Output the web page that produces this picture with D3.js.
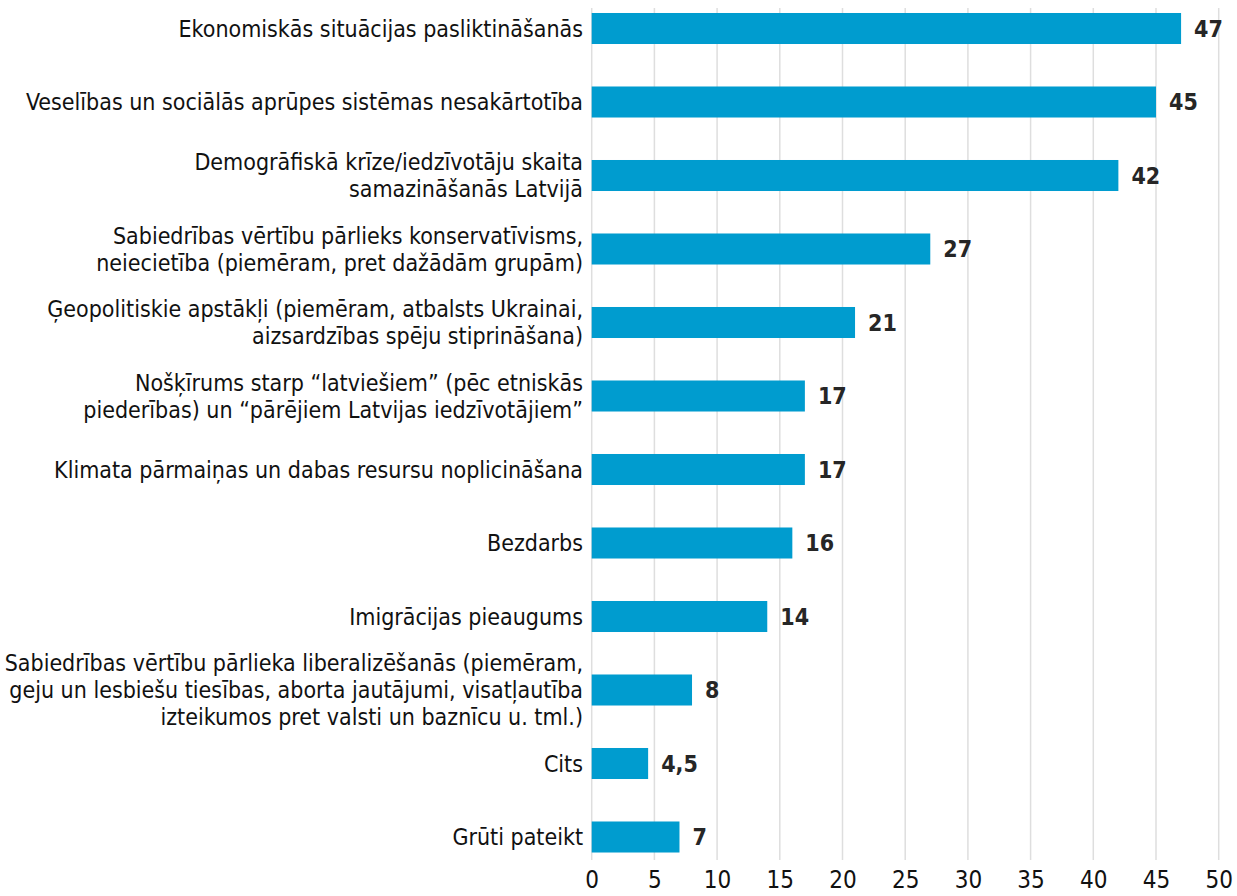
<!DOCTYPE html>
<html><head><meta charset="utf-8">
<script src="https://cdn.jsdelivr.net/npm/d3@7"></script>
<style>
html,body{margin:0;padding:0;background:#fff;}
svg{display:block;}
text{font-family:"Liberation Sans Narrow","DejaVu Sans Condensed",sans-serif;}
</style></head>
<body>
<svg id="chart" width="1237" height="896"></svg>
<script>
const categories = [
  ["Ekonomiskās situācijas pasliktināšanās"],
  ["Veselības un sociālās aprūpes sistēmas nesakārtotība"],
  ["Demogrāfiskā krīze/iedzīvotāju skaita", "samazināšanās Latvijā"],
  ["Sabiedrības vērtību pārlieks konservatīvisms,", "neiecietība (piemēram, pret dažādām grupām)"],
  ["Ģeopolitiskie apstākļi (piemēram, atbalsts Ukrainai,", "aizsardzības spēju stiprināšana)"],
  ["Nošķīrums starp “latviešiem” (pēc etniskās", "piederības) un “pārējiem Latvijas iedzīvotājiem”"],
  ["Klimata pārmaiņas un dabas resursu noplicināšana"],
  ["Bezdarbs"],
  ["Imigrācijas pieaugums"],
  ["Sabiedrības vērtību pārlieka liberalizēšanās (piemēram,", "geju un lesbiešu tiesības, aborta jautājumi, visatļautība", "izteikumos pret valsti un baznīcu u. tml.)"],
  ["Cits"],
  ["Grūti pateikt"]
];
const values = [47, 45, 42, 27, 21, 17, 17, 16, 14, 8, 4.5, 7];
const valueLabels = ["47", "45", "42", "27", "21", "17", "17", "16", "14", "8", "4,5", "7"];
const ticks = [0, 5, 10, 15, 20, 25, 30, 35, 40, 45, 50];

const svg = d3.select("#chart");
const x = d3.scaleLinear().domain([0, 50]).range([591.7, 1218.7]);
const idx = d3.range(categories.length);
const y = d3.scaleBand().domain(idx).range([-8.25, 873.75]).paddingInner(0.578).paddingOuter(0.289);

// gridlines
svg.append("g").selectAll("line").data(ticks).join("line")
  .attr("x1", d => x(d)).attr("x2", d => x(d))
  .attr("y1", 8).attr("y2", 860)
  .attr("stroke", "#dedede").attr("stroke-width", 1.5);

// tick labels via axis
const axis = svg.append("g").attr("transform", "translate(0,860)")
  .call(d3.axisBottom(x).tickValues(ticks).tickSize(0).tickPadding(16).tickFormat(d3.format("d")));
axis.select(".domain").remove();
axis.selectAll("text").attr("font-size", 24).attr("fill", "#111")
  .attr("y", 28).attr("dy", 0)
  .attr("font-family", "\"Liberation Sans Narrow\",\"DejaVu Sans Condensed\",sans-serif");

// bars
svg.append("g").selectAll("rect").data(idx).join("rect")
  .attr("x", x(0)).attr("y", i => y(i))
  .attr("width", i => x(values[i]) - x(0))
  .attr("height", y.bandwidth())
  .attr("fill", "#009ccf");

// value labels
svg.append("g").selectAll("text").data(idx).join("text")
  .attr("x", i => x(values[i]) + 13)
  .attr("y", i => y(i) + y.bandwidth() / 2)
  .attr("dy", "0.36em")
  .attr("font-size", 23).attr("font-weight", "bold").attr("fill", "#262626")
  .text(i => valueLabels[i]);

// category labels
const lh = 27;
const cat = svg.append("g").selectAll("text").data(idx).join("text")
  .attr("text-anchor", "end")
  .attr("font-size", 23).attr("fill", "#111");
cat.each(function(i) {
  const lines = categories[i];
  const cy = y(i) + y.bandwidth() / 2;
  const t = d3.select(this);
  lines.forEach((ln, k) => {
    t.append("tspan").attr("x", 583)
      .attr("y", cy + (k - (lines.length - 1) / 2) * lh)
      .attr("dy", "0.36em").text(ln);
  });
});
</script>
</body></html>
